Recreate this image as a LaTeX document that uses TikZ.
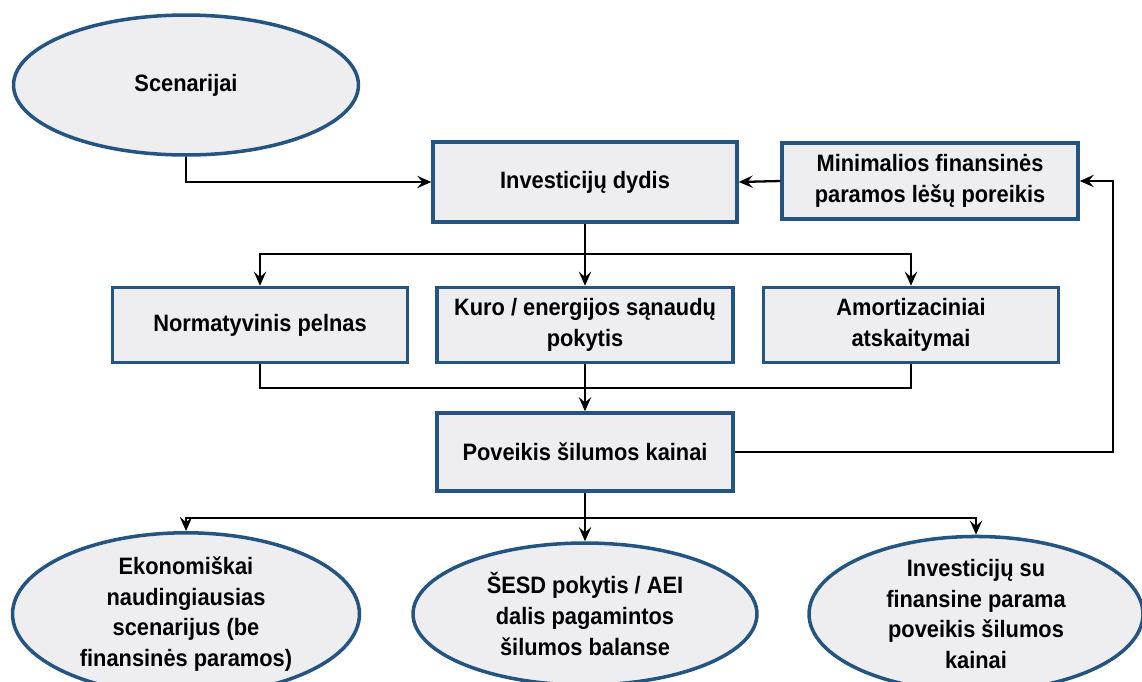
\documentclass[tikz,border=0pt]{standalone}
\usepackage{fontspec}
\setmainfont{Liberation Sans}[FakeStretch=0.92]
\usetikzlibrary{shapes.geometric,arrows.meta}
\definecolor{edgeblue}{RGB}{36,84,130}
\definecolor{panelgray}{RGB}{238,238,240}
\begin{document}
\begin{tikzpicture}
[x=0.02cm,y=-0.02cm,
information box/.style={rectangle,draw=edgeblue,line width=2pt,fill=panelgray,align=center,inner sep=0pt,font=\bfseries\fontsize{13.5}{17.5}\selectfont},
information oval/.style={information box,ellipse},
link/.style={line width=1.3pt,-{Stealth[length=8pt,width=7pt,inset=3pt]}},
plain link/.style={line width=1.3pt}]
\useasboundingbox (0,0) rectangle (1142,681);
\node[information oval,minimum width=6.9cm,minimum height=2.8cm] (scen) at (186,85) {Scenarijai};
\node[information box,minimum width=6.08cm,minimum height=1.6cm] (inv) at (585,182) {Investicijų dydis};
\node[information box,minimum width=5.92cm,minimum height=1.52cm] (minfin) at (930,181) {Minimalios finansinės\\paramos lėšų poreikis};
\node[information box,minimum width=5.9cm,minimum height=1.5cm] (norm) at (260,325) {Normatyvinis pelnas};
\node[information box,minimum width=5.92cm,minimum height=1.5cm] (kuro) at (585,325) {Kuro / energijos sąnaudų\\pokytis};
\node[information box,minimum width=5.9cm,minimum height=1.5cm] (amort) at (911,325) {Amortizaciniai\\atskaitymai};
\node[information box,minimum width=5.92cm,minimum height=1.56cm] (pov) at (585,452) {Poveikis šilumos kainai};
\node[information oval,minimum width=6.94cm,minimum height=2.84cm] (eko) at (186,614) {Ekonomiškai\\naudingiausias\\scenarijus (be\\finansinės paramos)};
\node[information oval,minimum width=6.88cm,minimum height=2.84cm] (sesd) at (585,614) {ŠESD pokytis / AEI\\dalis pagamintos\\šilumos balanse};
\node[information oval,minimum width=6.68cm,minimum height=2.84cm] (fin) at (976,614) {Investicijų su\\finansine parama\\poveikis šilumos\\kainai};
\coordinate (split1) at (585,254);
\coordinate (merge) at (585,388);
\coordinate (split2) at (585,518);
\coordinate (back) at (1113,452);
\draw[link] (scen.south) |- (inv.west);
\draw[link] (minfin.west) -- (inv.east);
\draw[plain link] (inv.south) -- (split1);
\draw[link] (split1) -| (norm.north);
\draw[link] (split1) -| (amort.north);
\draw[link] (split1) -- (kuro.north);
\draw[plain link] (norm.south) |- (merge);
\draw[plain link] (amort.south) |- (merge);
\draw[link] (kuro.south) -- (pov.north);
\draw[link] (pov.east) -- (back) |- (minfin.east);
\draw[plain link] (pov.south) -- (split2);
\draw[link] (split2) -| (eko.north);
\draw[link] (split2) -- (sesd.north);
\draw[link] (split2) -| (fin.north);
\end{tikzpicture}
\end{document}
